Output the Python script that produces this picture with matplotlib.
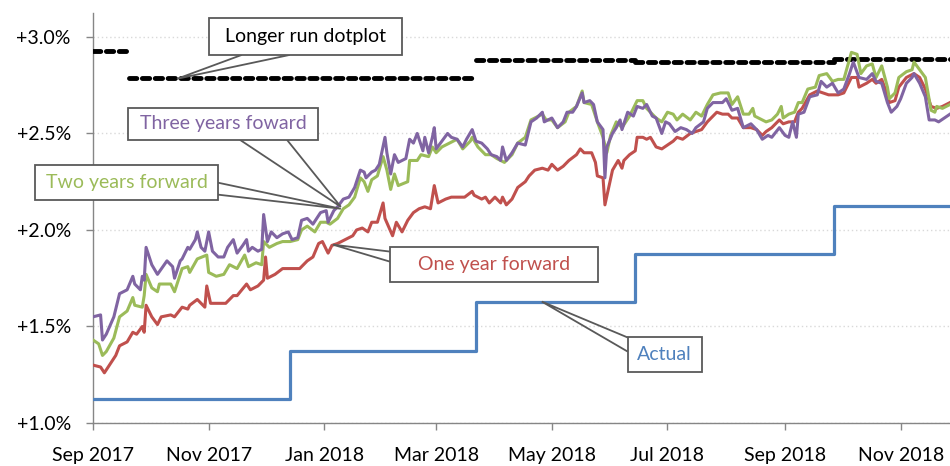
import numpy as np
import pandas as pd
import matplotlib
matplotlib.use("Agg")
import matplotlib.pyplot as plt
import matplotlib.dates as mdates
from matplotlib.patches import Rectangle, Polygon
from matplotlib.ticker import FuncFormatter

plt.rcParams['font.family'] = ['Lato', 'DejaVu Sans']

start = pd.Timestamp('2017-09-01')

# forward rates: days since 1 Sep 2017 and percent
one_days = [0, 4, 6, 8, 12, 14, 18, 21, 23, 26, 27, 28, 31, 34, 36, 41, 43, 47, 50, 51, 55, 59, 60, 62, 65,
            70, 74, 76, 81, 83, 87, 90, 91, 92, 96, 100, 104, 109, 113, 116, 119, 121, 124, 126, 129, 133,
            137, 139, 142, 145, 147, 150, 153, 154, 158, 160, 163, 166, 169, 172, 175, 178, 180, 182, 186,
            189, 192, 196, 200, 201, 205, 207, 209, 212, 215, 216, 218, 221, 224, 228, 230, 233, 237, 240,
            242, 245, 248, 251, 255, 257, 259, 263, 265, 266, 269, 270, 272, 274, 277, 279, 280, 283, 286,
            287, 290, 292, 294, 297, 300, 303, 306, 308, 311, 315, 318, 321, 324, 327, 329, 332, 335, 337,
            340, 343, 347, 350, 353, 355, 358, 362, 364, 367, 370, 372, 374, 378, 382, 385, 388, 393, 396,
            400, 403, 404, 408, 411, 413, 416, 419, 420, 423, 425, 429, 433, 436, 439, 442, 445, 448, 452]
one_vals = [1.30, 1.29, 1.26, 1.29, 1.35, 1.40, 1.42, 1.47, 1.46, 1.50, 1.47, 1.61, 1.55, 1.51, 1.55, 1.56,
            1.55, 1.60, 1.59, 1.61, 1.64, 1.60, 1.71, 1.62, 1.62, 1.62, 1.66, 1.66, 1.72, 1.69, 1.71, 1.74,
            1.86, 1.75, 1.77, 1.80, 1.80, 1.80, 1.84, 1.86, 1.93, 1.94, 1.88, 1.92, 1.93, 1.95, 1.97, 2.00,
            2.01, 1.99, 2.04, 2.04, 2.14, 2.06, 1.97, 2.04, 1.99, 2.05, 2.09, 2.11, 2.12, 2.11, 2.23, 2.14,
            2.16, 2.17, 2.17, 2.17, 2.20, 2.18, 2.16, 2.17, 2.14, 2.17, 2.14, 2.17, 2.13, 2.16, 2.22, 2.25,
            2.28, 2.31, 2.32, 2.31, 2.34, 2.31, 2.33, 2.36, 2.39, 2.42, 2.40, 2.40, 2.35, 2.28, 2.27, 2.13,
            2.22, 2.31, 2.36, 2.32, 2.36, 2.39, 2.41, 2.48, 2.48, 2.47, 2.48, 2.43, 2.42, 2.44, 2.46, 2.48,
            2.47, 2.50, 2.51, 2.52, 2.56, 2.59, 2.61, 2.60, 2.60, 2.58, 2.58, 2.53, 2.53, 2.52, 2.49, 2.51,
            2.53, 2.57, 2.55, 2.56, 2.56, 2.61, 2.63, 2.70, 2.72, 2.71, 2.70, 2.70, 2.71, 2.79, 2.79, 2.74,
            2.76, 2.78, 2.76, 2.78, 2.70, 2.66, 2.67, 2.74, 2.79, 2.81, 2.79, 2.73, 2.64, 2.63, 2.64, 2.66]

two_days = [0, 3, 5, 7, 11, 14, 18, 21, 22, 26, 27, 28, 31, 34, 35, 41, 43, 47, 50, 51, 55, 60, 61, 65, 69,
            72, 76, 80, 82, 86, 89, 90, 93, 97, 100, 104, 108, 110, 113, 117, 120, 123, 125, 129, 132, 135,
            138, 141, 143, 145, 147, 150, 153, 155, 157, 159, 161, 166, 167, 171, 173, 177, 179, 181, 184,
            188, 192, 195, 199, 200, 203, 207, 210, 213, 217, 221, 224, 228, 231, 237, 239, 242, 245, 249,
            251, 255, 258, 259, 263, 266, 269, 271, 273, 276, 279, 283, 287, 290, 292, 297, 300, 303, 306,
            308, 311, 315, 318, 321, 324, 327, 331, 335, 337, 340, 343, 346, 348, 349, 353, 355, 358, 361,
            363, 364, 367, 370, 372, 374, 377, 381, 383, 387, 390, 393, 396, 400, 403, 405, 408, 411, 413,
            416, 419, 420, 423, 425, 429, 432, 433, 436, 439, 442, 444, 445, 448, 452]
two_vals = [1.43, 1.41, 1.35, 1.37, 1.44, 1.55, 1.58, 1.65, 1.61, 1.60, 1.66, 1.77, 1.70, 1.68, 1.72, 1.72,
            1.68, 1.80, 1.81, 1.78, 1.85, 1.87, 1.78, 1.76, 1.77, 1.82, 1.80, 1.87, 1.81, 1.83, 1.82, 1.94,
            1.91, 1.93, 1.94, 1.94, 1.95, 2.00, 2.02, 1.99, 2.04, 2.04, 2.03, 2.06, 2.11, 2.13, 2.17, 2.27,
            2.25, 2.20, 2.26, 2.28, 2.38, 2.31, 2.21, 2.29, 2.23, 2.25, 2.36, 2.36, 2.39, 2.38, 2.43, 2.40,
            2.43, 2.45, 2.47, 2.42, 2.46, 2.48, 2.43, 2.39, 2.39, 2.37, 2.35, 2.39, 2.45, 2.48, 2.57, 2.60,
            2.57, 2.57, 2.53, 2.56, 2.61, 2.64, 2.72, 2.66, 2.65, 2.56, 2.48, 2.40, 2.49, 2.56, 2.53, 2.59,
            2.67, 2.67, 2.63, 2.58, 2.56, 2.61, 2.60, 2.57, 2.60, 2.57, 2.61, 2.59, 2.65, 2.70, 2.71, 2.71,
            2.65, 2.69, 2.60, 2.60, 2.63, 2.59, 2.57, 2.56, 2.57, 2.60, 2.64, 2.58, 2.60, 2.61, 2.66, 2.66,
            2.73, 2.74, 2.80, 2.81, 2.77, 2.78, 2.78, 2.92, 2.91, 2.81, 2.85, 2.86, 2.79, 2.85, 2.74, 2.68,
            2.71, 2.79, 2.82, 2.83, 2.87, 2.83, 2.79, 2.62, 2.61, 2.64, 2.63, 2.65]

three_days = [0, 4, 5, 7, 11, 14, 18, 21, 22, 25, 26, 27, 28, 31, 34, 39, 42, 43, 46, 47, 50, 51, 54, 55, 57,
              59, 61, 63, 66, 69, 71, 74, 76, 79, 81, 82, 84, 87, 89, 90, 92, 94, 97, 100, 103, 105, 108,
              110, 113, 116, 120, 123, 124, 127, 129, 132, 135, 138, 141, 143, 144, 147, 149, 151, 154, 155,
              157, 159, 161, 163, 165, 167, 169, 171, 174, 175, 177, 179, 180, 181, 184, 187, 189, 192, 195,
              197, 200, 202, 205, 208, 210, 213, 215, 216, 218, 221, 224, 228, 231, 234, 237, 238, 242, 245,
              248, 250, 253, 255, 258, 259, 262, 264, 266, 269, 270, 271, 274, 276, 278, 279, 282, 285, 287,
              290, 292, 295, 297, 300, 302, 304, 307, 310, 313, 316, 318, 322, 324, 327, 329, 332, 334, 337,
              340, 343, 347, 350, 353, 356, 358, 362, 365, 367, 369, 371, 372, 375, 378, 382, 384, 387, 390,
              393, 396, 399, 401, 404, 408, 411, 413, 416, 419, 421, 424, 426, 429, 432, 433, 436, 439, 441,
              444, 446, 449, 452]
three_vals = [1.55, 1.56, 1.43, 1.46, 1.55, 1.67, 1.69, 1.76, 1.72, 1.69, 1.76, 1.74, 1.91, 1.82, 1.77, 1.84,
              1.81, 1.75, 1.84, 1.85, 1.91, 1.90, 1.95, 1.99, 1.91, 1.89, 1.99, 1.89, 1.86, 1.86, 1.91, 1.95,
              1.88, 1.92, 1.95, 1.89, 1.91, 1.89, 1.90, 2.08, 1.94, 1.99, 1.96, 1.98, 1.99, 1.95, 1.96, 2.05,
              2.06, 2.03, 2.09, 2.10, 2.04, 2.10, 2.12, 2.16, 2.17, 2.22, 2.31, 2.30, 2.27, 2.30, 2.31, 2.34,
              2.48, 2.40, 2.29, 2.39, 2.35, 2.36, 2.37, 2.47, 2.45, 2.50, 2.41, 2.48, 2.40, 2.48, 2.53, 2.42,
              2.46, 2.50, 2.48, 2.47, 2.43, 2.47, 2.52, 2.46, 2.45, 2.42, 2.39, 2.38, 2.36, 2.43, 2.36, 2.40,
              2.45, 2.44, 2.56, 2.58, 2.61, 2.56, 2.58, 2.53, 2.56, 2.61, 2.61, 2.64, 2.71, 2.66, 2.67, 2.65,
              2.56, 2.52, 2.27, 2.43, 2.50, 2.53, 2.57, 2.52, 2.61, 2.59, 2.64, 2.63, 2.65, 2.59, 2.58, 2.50,
              2.56, 2.55, 2.51, 2.53, 2.52, 2.50, 2.53, 2.56, 2.63, 2.66, 2.66, 2.66, 2.68, 2.62, 2.63, 2.53,
              2.55, 2.52, 2.47, 2.49, 2.48, 2.53, 2.49, 2.48, 2.56, 2.48, 2.60, 2.61, 2.69, 2.70, 2.77, 2.74,
              2.76, 2.71, 2.73, 2.81, 2.87, 2.79, 2.78, 2.81, 2.77, 2.76, 2.66, 2.61, 2.64, 2.68, 2.76, 2.79,
              2.81, 2.76, 2.69, 2.57, 2.57, 2.56, 2.58, 2.60]

# policy rate (step) and longer run dotplot
actual_dates = ['2017-09-01', '2017-12-14', '2018-03-22', '2018-06-14', '2018-09-27']
actual_vals = [1.125, 1.375, 1.625, 1.875, 2.125]
dot_dates = ['2017-09-01', '2017-09-20', '2018-03-22', '2018-06-14', '2018-09-27']
dot_vals = [2.925, 2.785, 2.88, 2.87, 2.885]
end_date = '2018-11-27'

BLUE = '#4F81BD'
RED = '#C0504D'
GREEN = '#9BBB59'
PURPLE = '#8064A2'
EDGE = '#595959'

fig = plt.figure(figsize=(9.5, 4.66), dpi=100)
ax = fig.add_axes([93 / 950, 43 / 466, 857 / 950, 410 / 466])

x0 = mdates.date2num(start)
end_num = mdates.date2num(pd.Timestamp(end_date))

def days_to_x(days):
    return x0 + np.asarray(days, dtype=float)

# actual
ax_x = list(mdates.date2num(pd.to_datetime(actual_dates))) + [end_num + 1]
ax.plot(ax_x, actual_vals + [actual_vals[-1]], drawstyle='steps-post', color=BLUE, lw=2.3, zorder=3)

# dotplot segments
dn = list(mdates.date2num(pd.to_datetime(dot_dates))) + [end_num + 1]
for i, v in enumerate(dot_vals):
    ax.plot([dn[i], dn[i + 1]], [v, v], color='black', lw=3.5,
            linestyle=(0, (1.5, 1.15)), dash_capstyle='round', zorder=3)

ax.plot(days_to_x(one_days), one_vals, color=RED, lw=2.2, zorder=4)
ax.plot(days_to_x(two_days), two_vals, color=GREEN, lw=2.2, zorder=4)
ax.plot(days_to_x(three_days), three_vals, color=PURPLE, lw=2.2, zorder=4)

ax.set_xlim(x0, end_num)
ax.set_ylim(1.0, 3.124)

ax.set_yticks([1.0, 1.5, 2.0, 2.5, 3.0])
ax.yaxis.set_major_formatter(FuncFormatter(lambda v, p: '+%.1f%%' % v))
ax.xaxis.set_major_locator(mdates.MonthLocator(bymonth=[1, 3, 5, 7, 9, 11]))
ax.xaxis.set_major_formatter(mdates.DateFormatter('%b %Y'))

for s in ['top', 'right']:
    ax.spines[s].set_visible(False)
for s in ['left', 'bottom']:
    ax.spines[s].set_color('#868686')
    ax.spines[s].set_linewidth(1.0)
ax.tick_params(axis='both', colors='#868686', labelcolor='black', labelsize=14, length=5, width=1.0)
ax.tick_params(axis='y', pad=11)
ax.tick_params(axis='x', pad=12)
ax.grid(axis='y', color='#D9D9D9', linestyle=(0, (1, 2)), lw=1.0)
ax.set_axisbelow(True)


def callout(text, color, box, base, tip):
    d0, d1, v0, v1 = box
    wedge = Polygon([(x0 + base[0][0], base[0][1]), (x0 + tip[0], tip[1]), (x0 + base[1][0], base[1][1])],
                    closed=False, fill=False, ec=EDGE, lw=1.3, zorder=6, clip_on=False)
    ax.add_patch(wedge)
    rect = Rectangle((x0 + d0, v0), d1 - d0, v1 - v0, fc='white', ec=EDGE, lw=1.3, zorder=7, clip_on=False)
    ax.add_patch(rect)
    ax.text(x0 + (d0 + d1) / 2, (v0 + v1) / 2, text, color=color, fontsize=14,
            ha='center', va='center', zorder=8, clip_on=False)


callout('Longer run dotplot', 'black', (61.1, 162.9, 2.907, 3.098),
        [(78.5, 2.907), (103.8, 2.907)], (44.3, 2.783))
callout('Three years foward', PURPLE, (18.4, 118.6, 2.467, 2.633),
        [(77.5, 2.467), (102.3, 2.467)], (130.7, 2.12))
callout('Two years forward', GREEN, (-30.6, 65.9, 2.157, 2.338),
        [(65.9, 2.245), (65.9, 2.183)], (130.7, 2.11))
callout('One year forward', RED, (156.6, 266.2, 1.733, 1.914),
        [(156.6, 1.888), (156.6, 1.836)], (126.5, 1.924))
callout('Actual', BLUE, (282, 321, 1.262, 1.443),
        [(282, 1.443), (282, 1.37)], (236.7, 1.629))

fig.savefig('out.png', dpi=100)
